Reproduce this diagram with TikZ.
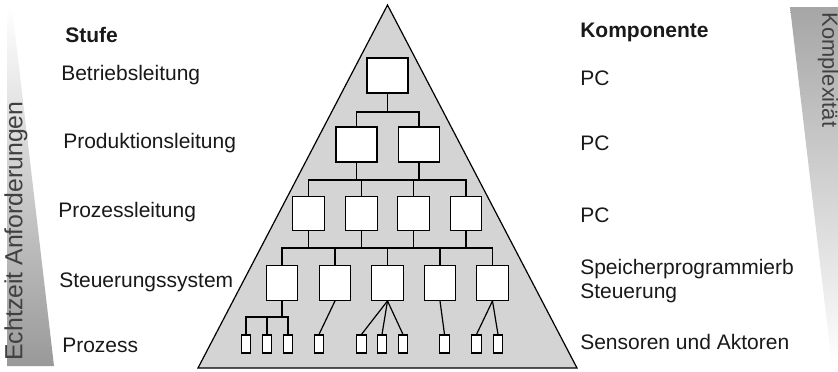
\documentclass[tikz,border=0pt]{standalone}
\usepackage{fontspec}
\setmainfont{Liberation Sans}
\usepackage{xcolor}
\definecolor{trifill}{RGB}{212,212,212}
\definecolor{txtgray}{RGB}{25,25,25}

\begin{document}
\begin{tikzpicture}[x=0.75pt,y=0.75pt,yscale=-1,xscale=1,
  bigbox/.style={draw, fill=white, line width=0.9pt, inner sep=0pt, minimum width=30.75pt, minimum height=26.25pt},
  midbox/.style={draw, fill=white, line width=0.9pt, inner sep=0pt, minimum width=23.6pt, minimum height=26pt},
  tinybox/.style={draw, fill=white, line width=0.9pt, inner sep=0pt, minimum width=7pt, minimum height=13.5pt},
  wire/.style={line width=0.9pt},
  lbl/.style={anchor=west, inner sep=0pt, text=txtgray, font=\fontsize{15.75}{18}\selectfont},
  head/.style={lbl, font=\bfseries\fontsize{15.75}{18}\selectfont}]
\useasboundingbox (0,0) rectangle (838,371);

%Shape: left wedge
\shade [top color=white, bottom color=black!40] (7,7) -- (12,7) -- (54,366) -- (7,366) -- cycle ;
%Shape: right wedge
\shade [top color=black!35, bottom color=white] (790,7) -- (838,7) -- (838,366) -- (832,366) -- cycle ;
%Shape: pyramid
\draw [fill=trifill, line width=0.9pt] (387.5,5) -- (577,368) -- (198,368) -- cycle ;

%bus levels
\coordinate (bus1) at (0,112) ;
\coordinate (bus2) at (0,180) ;
\coordinate (bus3) at (0,248) ;
\coordinate (bus4) at (0,317) ;

%Boxes
\node (bl) [bigbox] at (387.5,75.5) {};
\node (pl1) [bigbox] at (356.5,144.5) {};
\node (pl2) [bigbox] at (419,144.5) {};
\node (pz1) [midbox] at (308.5,213.5) {};
\node (pz2) [midbox] at (361.5,213.5) {};
\node (pz3) [midbox] at (413.5,213.5) {};
\node (pz4) [midbox] at (466,213.5) {};
\node (st1) [midbox] at (282,283) {};
\node (st2) [midbox] at (335,283) {};
\node (st3) [midbox] at (387.5,283) {};
\node (st4) [midbox] at (440,283) {};
\node (st5) [midbox] at (492.5,283) {};
\node (sa1) [tinybox] at (246,344) {};
\node (sa2) [tinybox] at (267,344) {};
\node (sa3) [tinybox] at (288,344) {};
\node (sa4) [tinybox] at (319,344) {};
\node (sa5) [tinybox] at (361.5,344) {};
\node (sa6) [tinybox] at (382,344) {};
\node (sa7) [tinybox] at (403,344) {};
\node (sa8) [tinybox] at (444.5,344) {};
\node (sa9) [tinybox] at (476.5,344) {};
\node (sa10) [tinybox] at (498,344) {};

%Straight Lines: Betriebsleitung - Produktionsleitung
\draw [wire] (bl.south) -- (bl.south |- bus1) ;
\draw [wire] (pl1.north) -- (pl1.north |- bus1) -- (pl2.north |- bus1) -- (pl2.north) ;
%Straight Lines: Produktionsleitung - Prozessleitung
\draw [wire] (pl1.south) -- (pl1.south |- bus2) ;
\draw [wire] (pl2.south) -- (pl2.south |- bus2) ;
\draw [wire] (pz1.north) -- (pz1.north |- bus2) -- (pz4.north |- bus2) -- (pz4.north) ;
\draw [wire] (pz2.north) -- (pz2.north |- bus2) ;
\draw [wire] (pz3.north) -- (pz3.north |- bus2) ;
%Straight Lines: Prozessleitung - Steuerung
\foreach \i in {1,...,4} {
  \draw [wire] (pz\i.south) -- (pz\i.south |- bus3) ;
}
\draw [wire] (st1.north) -- (st1.north |- bus3) -- (st5.north |- bus3) -- (st5.north) ;
\foreach \i in {2,3,4} {
  \draw [wire] (st\i.north) -- (st\i.north |- bus3) ;
}
%Straight Lines: Steuerung - Sensoren/Aktoren
\draw [wire] (st1.south) -- (st1.south |- bus4) ;
\draw [wire] (sa1.north) -- (sa1.north |- bus4) -- (sa3.north |- bus4) -- (sa3.north) ;
\draw [wire] (sa2.north) -- (sa2.north |- bus4) ;
\draw [wire] (st2.south) -- (sa4.north) ;
\foreach \j in {5,6,7} {
  \draw [wire] (st3.south) -- (sa\j.north) ;
}
\draw [wire] (st4.south) -- (sa8.north) ;
\draw [wire] (st5.south) -- (sa9.north) ;
\draw [wire] (st5.south) -- (sa10.north) ;

% Text Node
\node (echtzeit) [rotate=90, inner sep=0pt, text=black!75, font=\fontsize{18.6}{20}\selectfont] at (16,231) {Echtzeit Anforderungen};
% Text Node
\node (komplex) [rotate=-90, inner sep=0pt, text=black!75, font=\fontsize{16.4}{18}\selectfont] at (828,70) {Komplexität};

% Text Node
\node (stufe) [head] at (65,35) {Stufe};
\node (betrieb) [lbl] at (61,75) {Betriebsleitung};
\node (produktion) [lbl] at (63,143) {Produktionsleitung};
\node (prozessl) [lbl] at (58,212) {Prozessleitung};
\node (steuerung) [lbl] at (59,282) {Steuerungssystem};
\node (prozess) [lbl] at (62,345) {Prozess};

% Text Node
\node (komponente) [head] at (580,32) {Komponente};
\node (pc1) [lbl] at (580,78) {PC};
\node (pc2) [lbl] at (580,143) {PC};
\node (pc3) [lbl] at (580,215) {PC};
\node (sps) [lbl, align=left] at (580,281) {Speicherprogrammierb\\Steuerung};
\node (sensoren) [lbl] at (580,342) {Sensoren und Aktoren};

\end{tikzpicture}
\end{document}
